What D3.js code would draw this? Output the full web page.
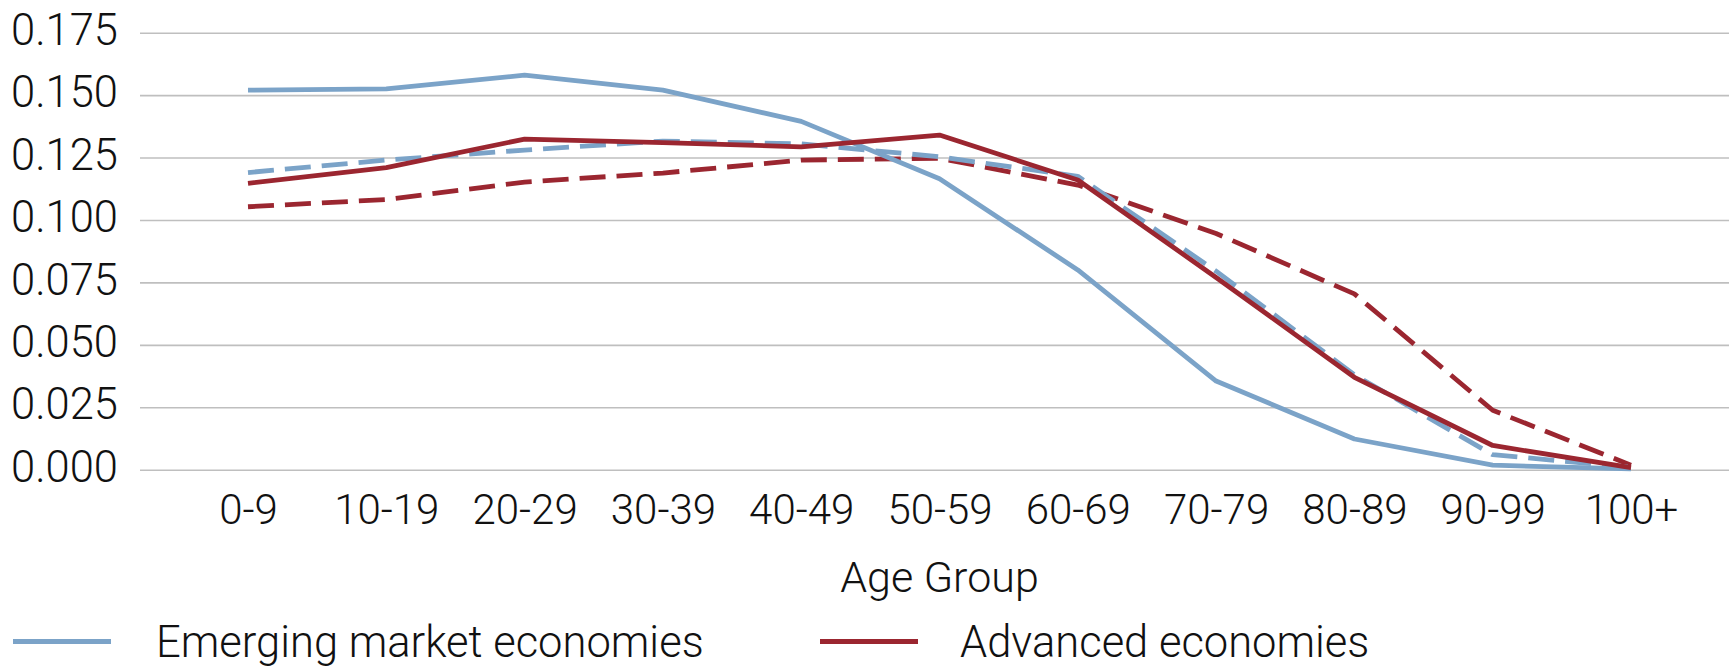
<!DOCTYPE html>
<html>
<head>
<meta charset="utf-8">
<script src="https://cdn.jsdelivr.net/npm/d3@7"></script>
<style>
  html, body { margin: 0; padding: 0; background: #fff; }
  svg text { font-family: Roboto, "Open Sans", sans-serif; font-weight: 300; fill: #111; }
</style>
</head>
<body>
<svg id="chart" width="1729" height="667"></svg>
<script>
const categories = ["0-9","10-19","20-29","30-39","40-49","50-59","60-69","70-79","80-89","90-99","100+"];
const emergingSolid  = [0.1520, 0.1525, 0.1580, 0.1520, 0.1395, 0.1165, 0.0800, 0.0355, 0.0123, 0.0018, 0.0003];
const advancedSolid  = [0.1147, 0.1210, 0.1324, 0.1310, 0.1293, 0.1340, 0.1160, 0.0770, 0.0370, 0.0097, 0.0008];
const emergingDashed = [0.1190, 0.1240, 0.1280, 0.1316, 0.1305, 0.1253, 0.1175, 0.0795, 0.0380, 0.0060, 0.0010];
const advancedDashed = [0.1053, 0.1082, 0.1152, 0.1188, 0.1240, 0.1247, 0.1140, 0.0946, 0.0704, 0.0238, 0.0018];
const yTicks = [0, 0.025, 0.05, 0.075, 0.1, 0.125, 0.15, 0.175];
const xTitle = "Age Group";
const legendItems = ["Emerging market economies", "Advanced economies"];

const BLUE = "#7ba3c8", RED = "#9b2630", GRID = "#bfbfbf";

const svg = d3.select("#chart");
const x = d3.scalePoint().domain(categories).range([248, 1631]);
const y = d3.scaleLinear().domain([0, 0.175]).range([469.7, 32.7]);

// Y axis with gridlines
const yAxis = d3.axisLeft(y).tickValues(yTicks).tickFormat(d3.format(".3f"))
  .tickSize(-(1729 - 140)).tickPadding(22);
const gy = svg.append("g").attr("transform", "translate(140,0)").call(yAxis);
gy.select(".domain").remove();
gy.selectAll(".tick line").attr("stroke", GRID).attr("stroke-width", 1.6);
gy.selectAll(".tick text").attr("font-size", 43.5).attr("dy", null).attr("y", 11.6)
  .style("font-family", "Roboto, sans-serif").style("font-weight", 300).attr("fill", "#111");

// X axis labels
const xAxis = d3.axisBottom(x).tickSize(0).tickPadding(0);
const gx = svg.append("g").attr("transform", `translate(0,${y(0)})`).call(xAxis);
gx.select(".domain").remove();
gx.selectAll(".tick text").attr("font-size", 42).attr("dy", null).attr("y", 54.5)
  .style("font-family", "Roboto, sans-serif").style("font-weight", 300).attr("fill", "#111");

svg.append("text").attr("x", (x.range()[0] + x.range()[1]) / 2).attr("y", 592)
  .attr("text-anchor", "middle").attr("font-size", 43).text(xTitle);

// Lines
const line = d3.line().x((d, i) => x(categories[i])).y(d => y(d));
const series = [
  { data: advancedDashed, color: RED, dash: "26,11" },
  { data: emergingDashed, color: BLUE, dash: "26,11" },
  { data: emergingSolid, color: BLUE, dash: null },
  { data: advancedSolid, color: RED, dash: null }
];
series.forEach(s => {
  svg.append("path").datum(s.data).attr("d", line)
    .attr("fill", "none").attr("stroke", s.color).attr("stroke-width", 4.8)
    .attr("stroke-linejoin", "round").attr("stroke-linecap", "butt")
    .attr("stroke-dasharray", s.dash);
});

// Legend
const legend = [
  { label: legendItems[0], color: BLUE, x0: 13, x1: 111, tx: 156 },
  { label: legendItems[1], color: RED, x0: 820, x1: 918, tx: 960 }
];
legend.forEach(l => {
  svg.append("line").attr("x1", l.x0).attr("x2", l.x1).attr("y1", 641.5).attr("y2", 641.5)
    .attr("stroke", l.color).attr("stroke-width", 5);
  svg.append("text").attr("x", l.tx).attr("y", 657).attr("font-size", 43.5).text(l.label);
});
</script>
</body>
</html>
